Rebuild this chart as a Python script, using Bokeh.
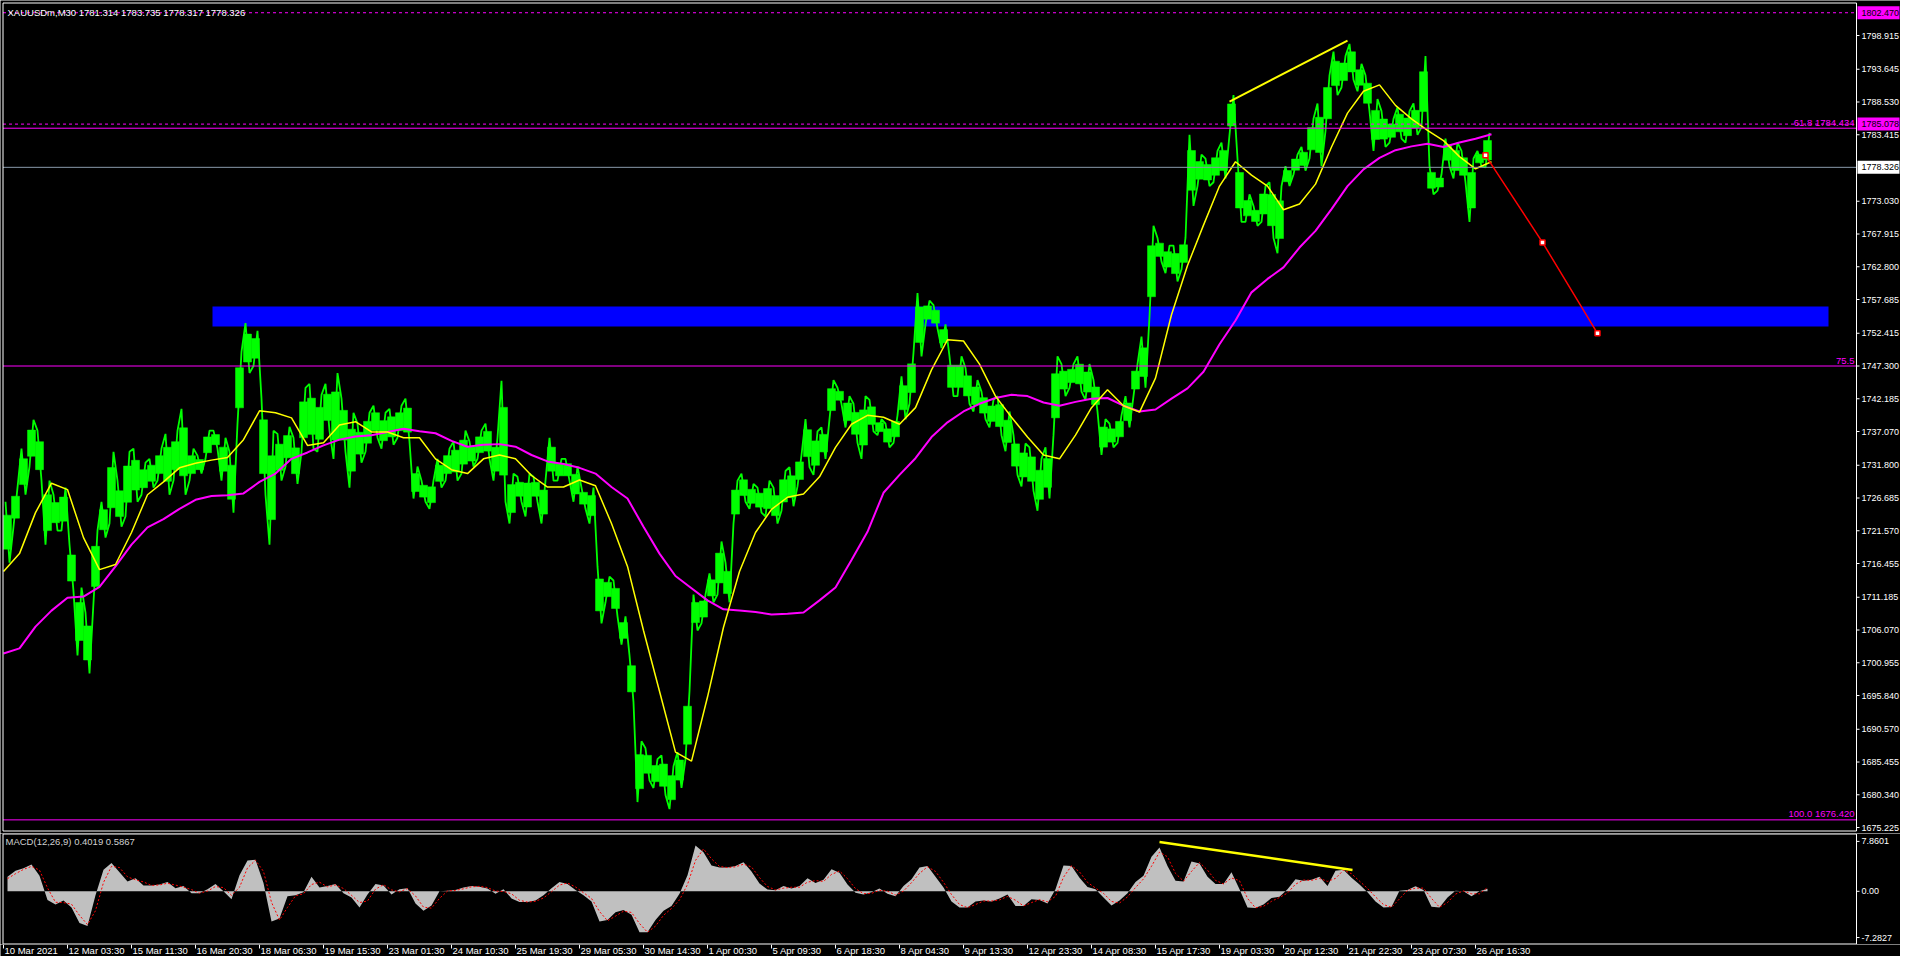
from bokeh.plotting import figure
from bokeh.layouts import column
from bokeh.models import Range1d
from bokeh.embed import file_html
from bokeh.resources import INLINE
from bokeh.core.properties import value

# ---------------- data (M30 bars, x = bar index) ----------------
BAR_STEP = 8          # each price / MACD sample covers 8 bars
MA_STEP = 16          # moving averages sampled every 16 bars
DATE_STEP = 64        # one date label every 64 bars

price_hi = [
    1726.1, 1728.3, 1734.4, 1738.9, 1737.2, 1729.4, 1727.2, 1728.3, 1719.4, 1712.7,
    1708.8, 1721.6, 1726.1, 1733.9, 1729.4, 1733.9, 1734.4, 1732.2, 1732.8, 1734.4,
    1736.7, 1737.2, 1740.6, 1734.4, 1733.3, 1737.2, 1737.2, 1736.1, 1733.9, 1749.5,
    1754.0, 1752.8, 1742.2, 1737.2, 1736.7, 1737.8, 1736.1, 1743.9, 1744.5, 1742.8,
    1744.5, 1746.2, 1742.2, 1740.0, 1738.3, 1740.0, 1741.1, 1740.0, 1740.6, 1741.1,
    1742.2, 1731.6, 1729.4, 1729.4, 1732.8, 1734.4, 1735.5, 1737.2, 1735.5, 1737.2,
    1738.3, 1736.1, 1745.0, 1730.5, 1730.0, 1730.5, 1730.0, 1729.4, 1736.1, 1732.8,
    1732.8, 1731.6, 1728.3, 1728.3, 1716.0, 1714.4, 1713.8, 1708.2, 1702.1, 1688.7,
    1687.6, 1685.9, 1686.5, 1684.8, 1687.0, 1696.5, 1711.6, 1711.6, 1714.9, 1719.9,
    1716.6, 1729.4, 1730.5, 1728.9, 1728.3, 1729.4, 1728.3, 1730.9, 1731.5, 1733.4,
    1739.0, 1737.1, 1737.7, 1745.1, 1743.9, 1742.6, 1741.4, 1742.6, 1742.0, 1739.0,
    1738.3, 1739.6, 1745.7, 1749.4, 1758.7, 1757.5, 1756.8, 1753.8, 1748.8, 1748.8,
    1747.0, 1745.1, 1743.3, 1742.0, 1742.6, 1740.2, 1736.5, 1735.2, 1734.6, 1732.8,
    1734.6, 1748.8, 1747.6, 1747.6, 1748.8, 1747.6, 1745.1, 1739.0, 1738.3, 1739.6,
    1742.6, 1747.6, 1751.9, 1769.2, 1767.3, 1766.1, 1766.1, 1767.3, 1783.4, 1780.3,
    1779.7, 1780.9, 1782.2, 1789.6, 1779.7, 1774.1, 1772.3, 1775.4, 1776.0, 1775.4,
    1778.5, 1780.3, 1781.5, 1785.9, 1788.3, 1792.7, 1796.4, 1795.7, 1797.6, 1794.5,
    1792.7, 1789.0, 1787.1, 1785.9, 1787.7, 1787.1, 1788.3, 1795.7, 1778.5, 1777.2,
    1782.8, 1782.2, 1780.9, 1779.7, 1780.9, 1783.7,
]
price_lo = [
    1716.6, 1722.2, 1727.2, 1731.6, 1729.4, 1719.4, 1721.6, 1721.6, 1712.1, 1702.1,
    1699.3, 1710.4, 1720.5, 1722.7, 1722.2, 1723.8, 1726.1, 1727.2, 1728.3, 1729.4,
    1727.2, 1729.4, 1727.2, 1729.4, 1730.5, 1732.8, 1734.4, 1729.4, 1724.4, 1738.3,
    1746.2, 1747.3, 1727.2, 1719.4, 1729.4, 1731.6, 1728.9, 1733.9, 1734.4, 1733.9,
    1737.2, 1732.8, 1733.9, 1728.3, 1732.2, 1733.9, 1736.1, 1734.4, 1735.0, 1736.1,
    1735.5, 1726.6, 1726.1, 1725.0, 1728.3, 1729.4, 1729.4, 1730.5, 1731.6, 1732.8,
    1732.8, 1729.4, 1726.1, 1722.7, 1726.1, 1723.8, 1726.1, 1722.7, 1729.4, 1729.4,
    1729.4, 1726.1, 1725.0, 1722.7, 1707.1, 1710.4, 1708.2, 1703.8, 1694.8, 1679.2,
    1682.6, 1681.4, 1680.3, 1678.1, 1681.4, 1685.9, 1706.0, 1707.1, 1710.4, 1711.6,
    1710.4, 1722.7, 1726.1, 1725.0, 1724.4, 1723.8, 1722.7, 1724.7, 1725.4, 1728.5,
    1731.5, 1730.3, 1732.8, 1739.0, 1741.4, 1737.7, 1735.3, 1732.8, 1737.1, 1736.5,
    1734.6, 1735.3, 1739.0, 1741.4, 1748.8, 1753.8, 1753.2, 1750.1, 1742.6, 1742.6,
    1741.4, 1740.2, 1739.0, 1737.7, 1736.5, 1734.0, 1730.3, 1728.5, 1727.8, 1724.7,
    1726.6, 1736.5, 1742.6, 1743.9, 1743.3, 1742.0, 1740.2, 1733.4, 1734.6, 1735.3,
    1737.7, 1742.6, 1743.9, 1755.0, 1763.6, 1761.8, 1760.5, 1762.4, 1772.3, 1775.4,
    1775.4, 1776.0, 1776.6, 1783.4, 1769.8, 1769.8, 1769.2, 1769.8, 1767.3, 1764.9,
    1775.4, 1777.2, 1777.8, 1779.7, 1778.5, 1784.0, 1789.6, 1790.8, 1792.0, 1790.2,
    1787.1, 1780.9, 1781.5, 1782.2, 1782.8, 1782.2, 1783.4, 1784.6, 1774.1, 1774.7,
    1778.5, 1776.6, 1776.0, 1769.8, 1778.5, 1778.3,
]
ma_fast = [
    1715.2, 1718.0, 1724.4, 1729.0, 1728.0, 1720.5, 1715.5, 1716.3, 1721.3, 1727.2,
    1729.2, 1731.4, 1732.1, 1732.6, 1733.0, 1735.8, 1740.3, 1740.0, 1739.2, 1734.9,
    1735.3, 1738.1, 1738.6, 1737.0, 1737.0, 1736.1, 1736.1, 1732.8, 1731.1, 1730.5,
    1732.8, 1733.4, 1732.8, 1730.2, 1728.4, 1728.4, 1729.5, 1728.6, 1722.7, 1716.0,
    1706.0, 1696.5, 1687.0, 1685.6, 1695.6, 1706.5, 1715.2, 1721.3, 1724.9, 1726.8,
    1727.3, 1730.0, 1734.6, 1738.2, 1739.6, 1739.3, 1738.2, 1740.8, 1746.7, 1751.4,
    1751.2, 1747.6, 1742.6, 1739.3, 1736.2, 1733.4, 1732.8, 1736.5, 1740.8, 1743.6,
    1741.1, 1740.1, 1745.4, 1755.3, 1763.0, 1769.3, 1775.4, 1779.2, 1777.1, 1775.4,
    1771.7, 1772.6, 1775.7, 1781.5, 1786.8, 1790.2, 1791.2, 1788.0, 1785.9, 1784.1,
    1782.5, 1780.0, 1778.1, 1779.2,
]
ma_slow = [
    1702.4, 1703.2, 1706.6, 1709.1, 1711.1, 1711.3, 1712.8, 1716.0, 1719.4, 1722.1,
    1723.4, 1725.0, 1726.4, 1727.0, 1727.1, 1727.4, 1729.2, 1730.5, 1732.8, 1733.8,
    1734.9, 1735.8, 1736.3, 1736.5, 1737.0, 1737.5, 1737.1, 1736.8, 1735.6, 1734.7,
    1735.0, 1735.1, 1734.7, 1733.4, 1732.4, 1732.0, 1731.4, 1730.5, 1728.4, 1726.6,
    1722.2, 1718.0, 1714.5, 1712.6, 1710.7, 1709.3, 1709.1, 1708.9, 1708.5, 1708.6,
    1708.8, 1710.7, 1712.7, 1717.0, 1721.4, 1727.5, 1730.3, 1732.9, 1736.2, 1738.5,
    1740.2, 1741.4, 1742.3, 1742.8, 1742.6, 1741.6, 1741.1, 1741.7, 1742.2, 1742.3,
    1741.1, 1740.2, 1740.5, 1742.2, 1743.8, 1746.4, 1750.7, 1754.4, 1758.8, 1760.9,
    1762.7, 1765.8, 1768.4, 1771.8, 1775.4, 1778.0, 1779.8, 1781.0, 1781.6, 1782.0,
    1781.5, 1782.2, 1782.8, 1783.5,
]
macd_main = [
    2.28, 3.25, 3.64, 4.22, 2.43, -1.36, -2.09, -1.46, -2.57, -5.0,
    -5.48, -0.63, 3.40, 4.46, 3.01, 1.55, 2.04, 0.92, 0.92, 1.07,
    1.46, 0.49, 0.83, -0.29, -0.29, 0.34, 1.16, 0.0, -1.26, 2.52,
    4.85, 4.95, 1.31, -4.76, -4.27, -0.78, -0.63, -0.15, 2.28, 0.58,
    0.83, 1.16, -0.29, -0.97, -2.57, -0.49, 1.16, 0.92, -0.49, 0.34,
    0.49, -1.94, -3.06, -2.23, 0.0, 0.10, 0.19, 0.58, 0.83, 0.73,
    0.44, -0.39, 0.34, -1.12, -1.70, -1.70, -1.46, -0.63, 0.49, 1.46,
    1.16, 0.19, -0.63, -1.60, -4.76, -4.51, -3.30, -2.96, -3.69, -6.45,
    -6.45, -4.51, -3.06, -2.33, -0.39, 2.52, 7.2, 6.16, 4.08, 3.74,
    3.74, 3.98, 4.56, 3.11, 1.21, 0.29, 0.15, 0.83, 0.44, 0.83,
    2.04, 1.31, 1.80, 3.49, 2.91, 1.07, -0.24, -0.49, -0.15, 0.44,
    -0.39, -0.78, 0.83, 1.89, 3.74, 3.98, 2.28, 0.58, -1.60, -2.57,
    -2.57, -1.60, -1.46, -1.60, -1.12, -0.49, -2.3, -2.3, -1.26, -1.36,
    -1.94, 0.34, 4.08, 3.98, 2.14, 0.68, 0.34, -0.97, -2.23, -1.46,
    -0.29, 1.46, 2.43, 5.44, 6.89, 3.98, 1.65, 1.55, 4.71, 4.37,
    2.28, 1.16, 1.16, 3.01, 0.34, -2.57, -2.62, -2.09, -1.07, -0.87,
    0.34, 1.89, 1.65, 1.80, 2.28, 0.83, 3.25, 3.40, 2.14, 1.07,
    -0.15, -1.60, -2.57, -2.47, 0.10, 0.19, 0.8, 0.2, -2.43, -2.57,
    -0.97, 0.10, 0.0, -0.78, 0.0, 0.40,
]
macd_signal = [
    2.0, 2.77, 3.45, 3.93, 3.33, 0.54, -1.73, -1.78, -2.02, -3.79,
    -5.24, -3.06, 1.39, 3.93, 3.74, 2.28, 1.80, 1.48, 0.92, 1.0,
    1.27, 0.98, 0.66, 0.27, -0.29, 0.03, 0.75, 0.58, -0.63, 0.63,
    3.69, 4.90, 3.13, -1.73, -4.52, -2.53, -0.71, -0.39, 1.07, 1.43,
    0.71, 1.0, 0.44, -0.63, -1.77, -1.53, 0.34, 1.04, 0.22, -0.08,
    0.42, -0.73, -2.50, -2.65, -1.12, 0.05, 0.15, 0.39, 0.71, 0.78,
    0.59, 0.03, -0.03, -0.39, -1.41, -1.70, -1.58, -1.05, -0.07, 0.98,
    1.31, 0.68, -0.22, -1.12, -3.18, -4.64, -3.91, -3.13, -3.33, -5.07,
    -6.45, -5.48, -3.79, -2.70, -1.36, 1.07, 4.86, 6.68, 5.12, 3.91,
    3.74, 3.86, 4.27, 3.84, 2.16, 0.75, 0.22, 0.49, 0.64, 0.64,
    1.44, 1.68, 1.56, 2.65, 3.20, 1.99, 0.42, -0.37, -0.32, 0.15,
    0.03, -0.59, 0.03, 1.36, 2.82, 3.86, 3.13, 1.43, -0.51, -2.09,
    -2.57, -2.09, -1.53, -1.53, -1.36, -0.81, -1.40, -2.30, -1.78, -1.31,
    -1.65, -0.80, 2.21, 4.03, 3.06, 1.41, 0.51, -0.32, -1.60, -1.85,
    -0.88, 0.59, 1.95, 3.94, 6.17, 5.44, 2.82, 1.60, 3.13, 4.54,
    3.33, 1.72, 1.16, 2.09, 1.68, -1.12, -2.60, -2.36, -1.58, -0.97,
    -0.27, 1.12, 1.77, 1.73, 2.04, 1.56, 2.04, 3.33, 2.77, 1.61,
    0.46, -0.88, -2.09, -2.52, -1.19, 0.15, 0.50, 0.50, -1.12, -2.50,
    -1.77, -0.44, 0.05, -0.39, -0.39, 0.59,
]
date_labels = [
    "10 Mar 2021", "12 Mar 03:30", "15 Mar 11:30", "16 Mar 20:30", "18 Mar 06:30",
    "19 Mar 15:30", "23 Mar 01:30", "24 Mar 10:30", "25 Mar 19:30", "29 Mar 05:30",
    "30 Mar 14:30", "1 Apr 00:30", "5 Apr 09:30", "6 Apr 18:30", "8 Apr 04:30",
    "9 Apr 13:30", "12 Apr 23:30", "14 Apr 08:30", "15 Apr 17:30", "19 Apr 03:30",
    "20 Apr 12:30", "21 Apr 22:30", "23 Apr 07:30", "26 Apr 16:30",
]
price_ticks = [
    1798.915, 1793.645, 1788.530, 1783.415, 1773.030, 1767.915, 1762.800,
    1757.685, 1752.415, 1747.300, 1742.185, 1737.070, 1731.800, 1726.685,
    1721.570, 1716.455, 1711.185, 1706.070, 1700.955, 1695.840, 1690.570,
    1685.455, 1680.340, 1675.225,
]
price_tick_labels = [f"{t:.3f}" for t in price_ticks]
macd_ticks = [7.8601, 0.0, -7.2827]
macd_tick_labels = ["7.8601", "0.00", "-7.2827"]

title_text = "XAUUSDm,M30  1781.314 1783.735 1778.317 1778.326"
macd_text = "MACD(12,26,9) 0.4019 0.5867"

# horizontal objects
dashed_levels = [1802.470, 1785.078]
bid_price = 1778.326
tag_prices = [1802.470, 1785.078, 1778.326]
tag_labels = ["1802.470", "1785.078", "1778.326"]
tag_fill = ["#FF00FF", "#FF00FF", "#FFFFFF"]
fib_prices = [1784.434, 1747.300, 1676.420]
fib_texts = ["61.8 1784.434", "75.5", "100.0 1676.420"]
fib_text_y = [1785.38, 1748.05, 1677.37]
zone_bars = [209, 1825]
zone_prices = [1753.47, 1756.59]
trend_bars = [1226, 1344]
trend_prices = [1788.6, 1798.1]
forecast_bars = [1482, 1539, 1594]
forecast_prices = [1780.2, 1766.6, 1752.4]
macd_trend_bars = [1156, 1349]
macd_trend_vals = [7.76, 3.35]

# ---------------- layout constants ----------------
W = 1900
FONT = "Liberation Sans"
FS = "9.5px"
FS_AX = "9px"
X0 = -3                      # bar 0 sits 3 px from the left edge
X1 = X0 + W                  # 1 bar per pixel
EDGE = 1853                  # right edge of the chart panels (price scale strip to the right)
X_RANGE = Range1d(X0, X1)

H_MAIN, H_MACD, H_DATE = 833, 111, 12
PPX = 0.15617                        # price per pixel
P_TOP = 1798.915 + 35 * PPX          # 1798.915 sits 35 px below the top
P_BOT = P_TOP - H_MAIN * PPX
MPX = 0.1575                         # MACD units per pixel
M_TOP = 57.8 * MPX                   # zero line ~58 px below the MACD panel top
M_BOT = M_TOP - H_MACD * MPX


def txt(fig, xs, ys, texts, color, align="left", font_size=FS):
    fig.text(x=xs, y=ys, text=texts, text_align=align, text_baseline="middle",
             text_color=color, text_font=value(FONT), text_font_size=value(font_size))


def base_fig(height, y0, y1):
    f = figure(width=W, height=height, x_range=X_RANGE, y_range=Range1d(y0, y1),
               output_backend="svg", toolbar_location=None,
               x_axis_location=None, y_axis_location=None,
               min_border_left=0, min_border_top=0, min_border_bottom=0, min_border_right=0,
               background_fill_color="black", border_fill_color="black",
               outline_line_color=None)
    f.grid.visible = False
    return f


n = len(price_hi)
left = [i * BAR_STEP for i in range(n)]
right = [l + BAR_STEP for l in left]
mid = [l + BAR_STEP / 2 for l in left]
ma_x = [j * MA_STEP for j in range(len(ma_fast))]

# dense core of each sample plus a zig-zag through its high and low
core_top = [h - 0.22 * (h - l) for h, l in zip(price_hi, price_lo)]
core_bot = [l + 0.22 * (h - l) for h, l in zip(price_hi, price_lo)]
zz_x, zz_y = [], []
for i in range(n):
    zz_x += [left[i] + 2, left[i] + 6]
    zz_y += [price_hi[i], price_lo[i]] if i % 2 == 0 else [price_lo[i], price_hi[i]]

b_left = X0 + 2.5            # left border 2 px from the edge

# ---------------- main price panel ----------------
p = base_fig(H_MAIN, P_BOT, P_TOP)

# support zone (behind bars)
p.quad(left=[zone_bars[0]], right=[zone_bars[1]], bottom=[zone_prices[0]], top=[zone_prices[1]],
       fill_color="#0000FF", line_color=None)

# price bars
p.quad(left=left, right=right, top=core_top, bottom=core_bot,
       fill_color="#00FF00", line_color="#00FF00", line_width=0.5)
p.line(zz_x, zz_y, line_color="#00FF00", line_width=1.8)

# moving averages
p.line(ma_x, ma_slow, line_color="#FF00FF", line_width=2)
p.line(ma_x, ma_fast, line_color="#FFFF00", line_width=1.5)

# horizontal lines (stop at the panel edge)
for lv in dashed_levels:
    p.line([b_left, EDGE], [lv, lv], line_color="#FF00FF", line_dash="3 3", line_width=1)
for lv in fib_prices:
    p.line([b_left, EDGE], [lv, lv], line_color="#FF00FF", line_width=1)
p.line([b_left, EDGE], [bid_price, bid_price], line_color="#8899AA", line_width=1)

# trend line and forecast path
p.line(trend_bars, trend_prices, line_color="#FFFF00", line_width=2)
p.line(forecast_bars, forecast_prices, line_color="#FF0000", line_width=1.5)
p.scatter(forecast_bars, forecast_prices, marker="square", size=5,
          fill_color="white", line_color="#FF0000", line_width=1.5)

# fib labels
txt(p, [EDGE - 2] * 3, fib_text_y, fib_texts, "#FF00FF", align="right")

# title
txt(p, [4], [1802.47], [title_text], "white")

# panel border (top at 2 px, bottom at 830 px)
b_top = P_TOP - 2.5 * PPX
b_bot = P_TOP - 830.5 * PPX
p.multi_line(xs=[[b_left, EDGE], [b_left, EDGE], [b_left, b_left], [EDGE, EDGE]],
             ys=[[b_top, b_top], [b_bot, b_bot], [b_bot, b_top], [b_bot, b_top]],
             line_color="white", line_width=1)

# right price scale
p.segment(x0=[EDGE] * len(price_ticks), y0=price_ticks, x1=[EDGE + 3] * len(price_ticks),
          y1=price_ticks, line_color="white", line_width=1)
txt(p, [EDGE + 5] * len(price_ticks), price_ticks, price_tick_labels, "white", font_size=FS_AX)

# price tags on the scale
half = 6.5 * PPX
p.quad(left=[EDGE + 1] * 3, right=[X1 - 1] * 3,
       bottom=[v - half for v in tag_prices], top=[v + half for v in tag_prices],
       fill_color=tag_fill, line_color=None)
txt(p, [EDGE + 5] * 3, tag_prices, tag_labels, "black", font_size=FS_AX)

# ---------------- MACD panel ----------------
q = base_fig(H_MACD, M_BOT, M_TOP)
q.varea(x=mid, y1=[0] * n, y2=macd_main, fill_color="#C0C0C0")
q.line(mid, macd_signal, line_color="#FF0000", line_dash="2 2", line_width=1)
q.line(macd_trend_bars, macd_trend_vals, line_color="#FFFF00", line_width=2.5)
txt(q, [2], [M_TOP - 8 * MPX], [macd_text], "#D0D0D0")

m_top = M_TOP - 0.5 * MPX
m_bot = M_TOP - (H_MACD - 0.5) * MPX
q.multi_line(xs=[[b_left, EDGE], [b_left, EDGE], [b_left, b_left], [EDGE, EDGE]],
             ys=[[m_top, m_top], [m_bot, m_bot], [m_bot, m_top], [m_bot, m_top]],
             line_color="white", line_width=1)
q.segment(x0=[EDGE] * 3, y0=macd_ticks, x1=[EDGE + 3] * 3, y1=macd_ticks,
          line_color="white", line_width=1)
txt(q, [EDGE + 5] * 3, macd_ticks, macd_tick_labels, "white", font_size=FS_AX)

# ---------------- time axis strip ----------------
d = base_fig(H_DATE, 0, H_DATE)
tick_x = [i * DATE_STEP for i in range(len(date_labels))]
d.segment(x0=tick_x, y0=[H_DATE] * len(tick_x), x1=tick_x, y1=[H_DATE - 4] * len(tick_x),
          line_color="white", line_width=1)
txt(d, [t + 1 for t in tick_x], [5.9] * len(tick_x), date_labels, "white", font_size="9.5px")

layout = column(p, q, d, spacing=0)
html = file_html(layout, INLINE, title="XAUUSDm M30")
with open("out.html", "w") as f:
    f.write(html)
